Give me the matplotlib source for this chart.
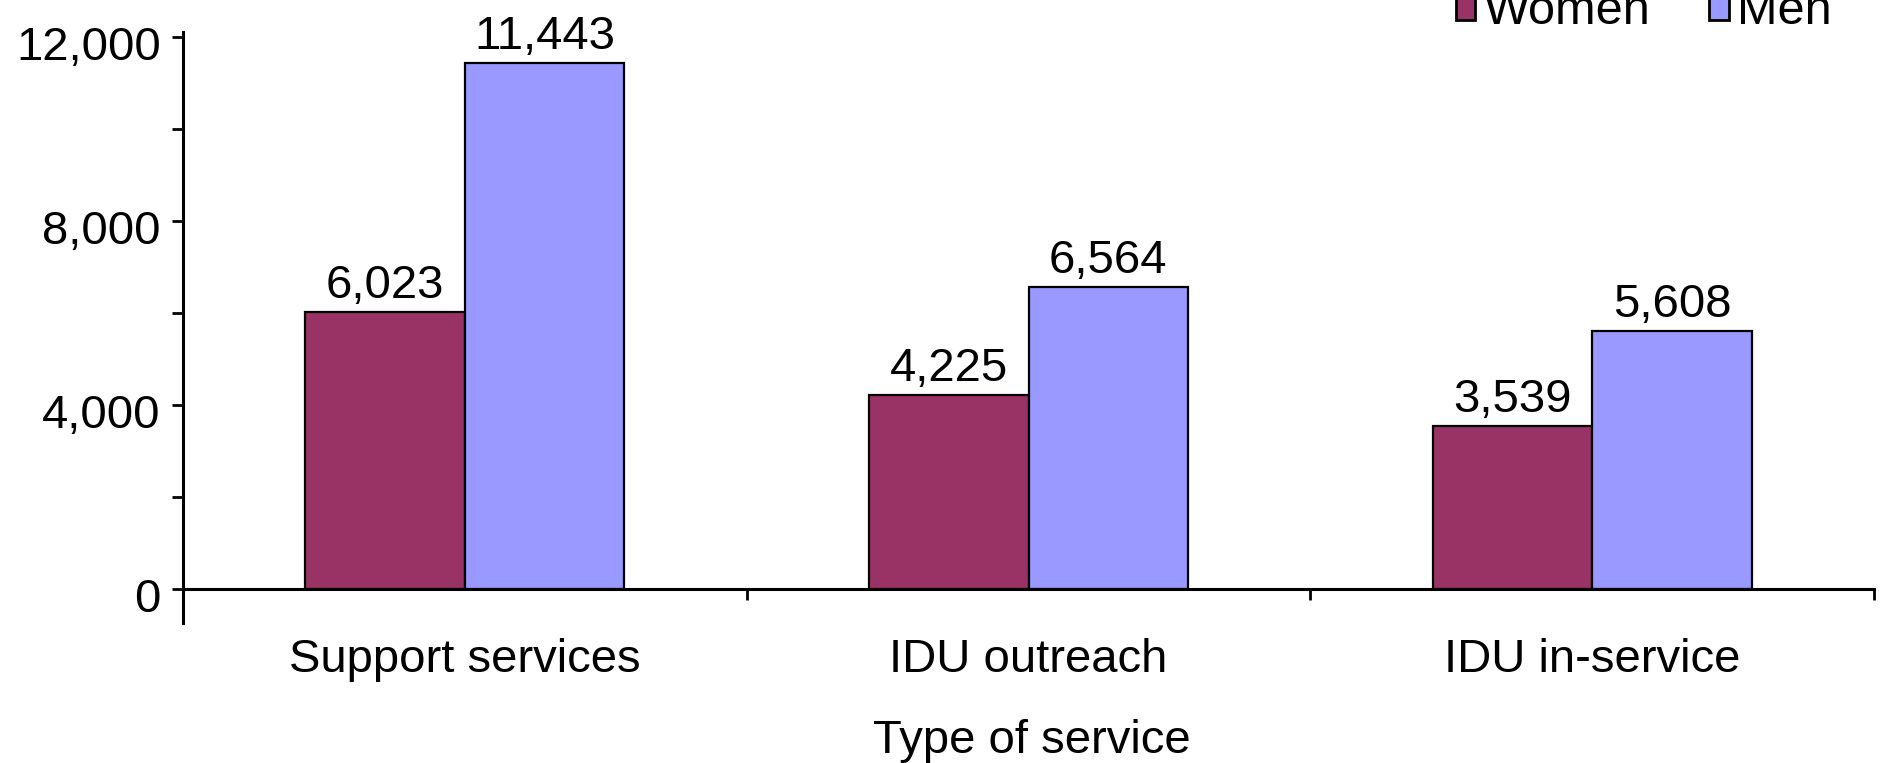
import numpy as np
import matplotlib
matplotlib.use("Agg")
import matplotlib.pyplot as plt
import matplotlib.transforms as mtransforms
from matplotlib.patches import Patch
from matplotlib.ticker import FuncFormatter, MultipleLocator

plt.rcParams['font.family'] = ['Liberation Sans', 'DejaVu Sans']

# data
services = ["Support services", "IDU outreach", "IDU in-service"]
women = [6023, 4225, 3539]
men = [11443, 6564, 5608]
series_names = ["Women", "Men"]
colors = ["#993366", "#9999FF"]

fs = 34
fig = plt.figure(figsize=(18.81, 7.63), dpi=100)
ax = fig.add_axes([0.0973, 0.228, 0.8990, 0.730])

x = np.arange(len(services))
w = 0.283
b1 = ax.bar(x - w / 2, women, w, color=colors[0], edgecolor="black", linewidth=1.6)
b2 = ax.bar(x + w / 2, men, w, color=colors[1], edgecolor="black", linewidth=1.6)
for bars in (b1, b2):
    ax.bar_label(bars, labels=[f"{v:,}" for v in bars.datavalues], padding=3, fontsize=fs)

ax.set_xlim(-0.5, 2.5)
ax.set_ylim(0, 12115)

# axes lines
for s in ["top", "right"]:
    ax.spines[s].set_visible(False)
ax.spines["left"].set_linewidth(2.2)
ax.spines["bottom"].set_linewidth(2.2)
ax.spines["left"].set_bounds(-740, 12115)

ax.yaxis.set_major_locator(MultipleLocator(4000))
ax.yaxis.set_minor_locator(MultipleLocator(2000))
ax.yaxis.set_major_formatter(FuncFormatter(lambda v, p: f"{int(v):,}"))
ax.tick_params(axis="y", which="both", direction="out", length=8, width=2, labelsize=fs, pad=8)
# labels in the reference sit a few pixels below their ticks
shift = mtransforms.ScaledTranslation(0, -6 / 100, fig.dpi_scale_trans)
for lab in ax.get_yticklabels():
    lab.set_transform(lab.get_transform() + shift)

# category ticks at group boundaries, labels at group centres
ax.set_xticks([0.5, 1.5, 2.5])
ax.set_xticklabels([])
ax.set_xticks(x, minor=True)
ax.set_xticklabels(services, minor=True)
ax.tick_params(axis="x", which="major", direction="out", length=8, width=2)
ax.tick_params(axis="x", which="minor", length=0, labelsize=fs, pad=35)

fig.text(0.5485, 1 - 753 / 763, "Type of service", ha="center", va="baseline", fontsize=fs)

handles = [Patch(facecolor=c, edgecolor="black", linewidth=2) for c in colors]
fig.legend(handles, series_names, loc="lower left", bbox_to_anchor=(1456 / 1881, 1 - 34 / 763),
           ncol=2, frameon=False, fontsize=fs + 1, borderpad=0, borderaxespad=0,
           handlelength=0.4, handleheight=0.45, handletextpad=0.18, columnspacing=1.2)

fig.savefig("out.png", dpi=100)
